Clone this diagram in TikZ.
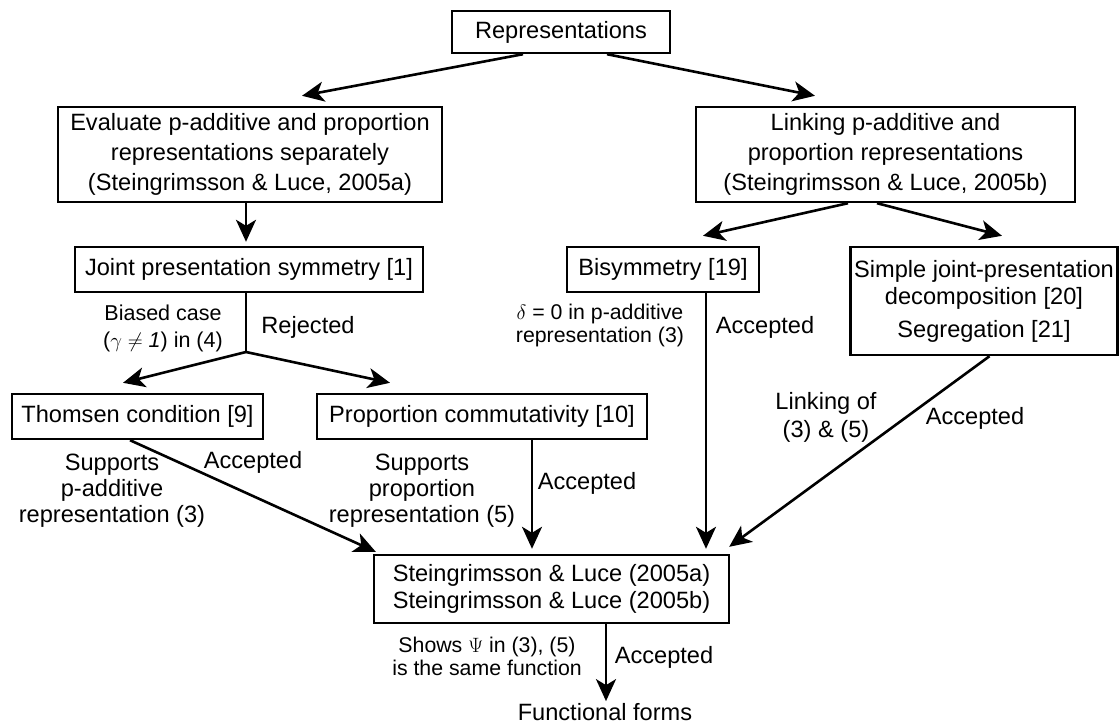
\documentclass[tikz,border=0pt]{standalone}
\usepackage{fontspec}
\setmainfont{Liberation Sans}
\usetikzlibrary{arrows.meta,calc}
\begin{document}
\begin{tikzpicture}[x=1pt,y=-1pt,
  box/.style={draw, line width=2.4pt, inner sep=0pt, align=center, font=\fontsize{23.6}{27}\selectfont},
  lbl/.style={inner sep=0pt, align=center, font=\fontsize{23.6}{26}\selectfont},
  slbl/.style={inner sep=0pt, align=center, font=\fontsize{21.3}{23}\selectfont},
  arr/.style={line width=2.6pt, -{Stealth[length=22pt,width=20pt,inset=6pt]}},
  ln/.style={line width=2.6pt}]
\path[use as bounding box] (0,0) rectangle (1120,727);
% boxes
\node[box, minimum width=218pt, minimum height=42pt] (rep) at (561,32) {Representations};
\node[box, minimum width=384pt, minimum height=95pt, font=\fontsize{23.6}{30}\selectfont] (eval) at (250,154.5)
  {Evaluate p-additive and proportion\\representations separately\\(Steingrimsson \& Luce, 2005a)};
\node[box, minimum width=379pt, minimum height=95pt, font=\fontsize{23.6}{30}\selectfont] (link) at (885.5,154.5)
  {Linking p-additive and\\proportion representations\\(Steingrimsson \& Luce, 2005b)};
\node[box, minimum width=348pt, minimum height=45pt] (joint) at (249,269.5) {Joint presentation symmetry [1]};
\node[box, minimum width=192pt, minimum height=45pt] (bisym) at (663,269.5) {Bisymmetry [19]};
\node[box, minimum width=267pt, minimum height=108pt] (simple) at (984,301)
  {Simple joint-presentation\\decomposition [20]\\[6pt]Segregation [21]};
\node[box, minimum width=251pt, minimum height=45pt] (thomsen) at (137.5,416.5) {Thomsen condition [9]};
\node[box, minimum width=330pt, minimum height=45pt] (prop) at (482,416.5) {Proportion commutativity [10]};
\node[box, minimum width=355pt, minimum height=68pt] (bottom) at (551.5,589)
  {Steingrimsson \& Luce (2005a)\\Steingrimsson \& Luce (2005b)};
\node[lbl] (ff) at (605,712) {Functional forms};
% connectors
\draw[arr] ([xshift=-38pt]rep.south) -- ([xshift=52pt,yshift=10pt]eval.north);
\draw[arr] ([xshift=46pt]rep.south) -- ([xshift=-70.5pt,yshift=10pt]link.north);
\draw[arr] ([xshift=-4pt]eval.south) -- ([xshift=-3pt,yshift=4pt]joint.north);
\draw[arr] ([xshift=-37.5pt]link.south) -- ([xshift=40pt,yshift=10pt]bisym.north);
\draw[arr] ([xshift=-8.5pt]link.south) -- ([xshift=18pt,yshift=10pt]simple.north);
\coordinate (br) at (246,352);
\draw[ln] (joint.south -| br) -- (br);
\draw[arr] (br) -- ([xshift=-14.5pt,yshift=10pt]thomsen.north);
\draw[arr] (br) -- ([xshift=-92pt,yshift=10pt]prop.north);
\draw[arr] ([xshift=-7.5pt]thomsen.south) -- ([xshift=3pt,yshift=2pt]bottom.north west);
\coordinate (pb) at ([xshift=50pt]prop.south);
\draw[arr, shorten >=5pt] (pb) -- (pb |- bottom.north);
\coordinate (bb) at ([xshift=43pt]bisym.south);
\draw[arr, shorten >=5pt] (bb) -- (bb |- bottom.north);
\draw[arr] ([xshift=5.5pt]simple.south) -- ([xshift=-1pt,yshift=7pt]bottom.north east);
\coordinate (bf) at ([xshift=54.5pt]bottom.south);
\draw[arr, shorten >=2pt] (bf) -- (bf |- ff.north);
% labels
\node[slbl, font=\fontsize{21.5}{27}\selectfont] (l1) at (163,328) {Biased case\\($\gamma\neq$ \textit{1}) in (4)};
\node[lbl] (l2) at (308,327) {Rejected};
\node[lbl] (l3) at (112,491) {Supports\\p-additive\\representation (3)};
\node[lbl] (l4) at (253,462) {Accepted};
\node[lbl] (l5) at (422,491) {Supports\\proportion\\representation (5)};
\node[lbl] (l6) at (587,483) {Accepted};
\node[slbl] (l7) at (600,325) {$\delta$ = 0 in p-additive\\representation (3)};
\node[lbl] (l8) at (765,327) {Accepted};
\node[lbl, font=\fontsize{23.6}{28}\selectfont] (l9) at (826,417) {Linking of\\(3) \& (5)};
\node[lbl] (l10) at (975,418) {Accepted};
\node[slbl] (l11) at (487,656) {Shows $\Psi$ in (3), (5)\\is the same function};
\node[lbl] (l12) at (664,657) {Accepted};
\end{tikzpicture}
\end{document}
